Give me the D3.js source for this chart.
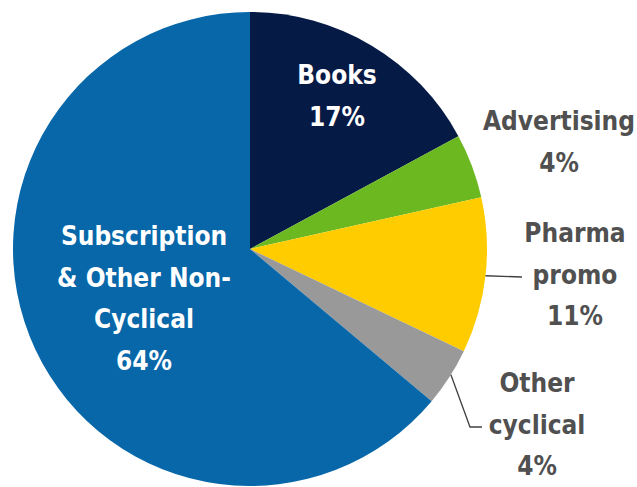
<!DOCTYPE html>
<html>
<head>
<meta charset="utf-8">
<script src="https://cdn.jsdelivr.net/npm/d3@7"></script>
<style>
  body { margin: 0; background: #fff; }
  svg text { font-family: "DejaVu Sans Condensed", "DejaVu Sans", sans-serif; font-stretch: condensed; font-weight: bold; }
</style>
</head>
<body>
<svg id="chart" width="637" height="487"></svg>
<script>
// segment shares (%), clockwise from 12 o'clock, as measured off the slices
let categories = ["Books", "Advertising", "Pharma promo", "Other cyclical", "Subscription & Other Non-Cyclical"];
let shares = [17.1, 4.4, 10.6, 4.0, 63.9];
let colours = ["#061a46", "#6cb821", "#ffcc00", "#999999", "#0767a9"];
// label lines as they are broken in the picture
let labelLines = [
    ["Books", "17%"],
    ["Advertising", "4%"],
    ["Pharma", "promo", "11%"],
    ["Other", "cyclical", "4%"],
    ["Subscription", "& Other Non-", "Cyclical", "64%"]
];

let cx = 250, cy = 249, radius = 237;

let svg = d3.select("#chart");
let g = svg.append("g").attr("transform", "translate(" + cx + "," + cy + ")");

let data = categories.map(function(c, i) {
    return { name: c, value: shares[i], colour: colours[i], lines: labelLines[i] };
});

let pie = d3.pie().sort(null).value(function(d) { return d.value; });
let arc = d3.arc().innerRadius(0).outerRadius(radius);
let arcs = pie(data);

g.selectAll("path")
    .data(arcs)
    .enter()
    .append("path")
    .attr("d", arc)
    .attr("fill", function(d) { return d.data.colour; });

//where each label sits (first baseline), relative to the centre
let labelPos = [
    { x: 87, y: -165, inside: true },
    { x: 309, y: -119, inside: false },
    { x: 325, y: -7, inside: false },
    { x: 287, y: 143, inside: false },
    { x: -106, y: -4, inside: true }
];
let lineHeight = 41.5;
let fontSize = 26;

arcs.forEach(function(a, i) {
    let p = labelPos[i];
    let t = g.append("text")
        .attr("text-anchor", "middle")
        .attr("font-size", fontSize)
        .attr("fill", p.inside ? "#ffffff" : "#505050");
    a.data.lines.forEach(function(line, k) {
        t.append("tspan")
            .attr("x", p.x)
            .attr("y", p.y + k * lineHeight)
            .text(line);
    });
});

//leader lines for the two small outside labels
function edgePoint(a, frac) {
    let ang = a.startAngle + (a.endAngle - a.startAngle) * frac;
    return [Math.sin(ang) * radius, -Math.cos(ang) * radius];
}
let pharmaEdge = edgePoint(arcs[2], 0.5);
let otherEdge = edgePoint(arcs[3], 0.45);

let leaders = [
    [pharmaEdge, [272, 28]],
    [otherEdge, [220, 178], [232, 178]]
];

g.selectAll("polyline")
    .data(leaders)
    .enter()
    .append("polyline")
    .attr("points", function(d) { return d.map(function(p) { return p.join(","); }).join(" "); })
    .attr("fill", "none")
    .attr("stroke", "#404040")
    .attr("stroke-width", 1.3);
</script>
</body>
</html>
